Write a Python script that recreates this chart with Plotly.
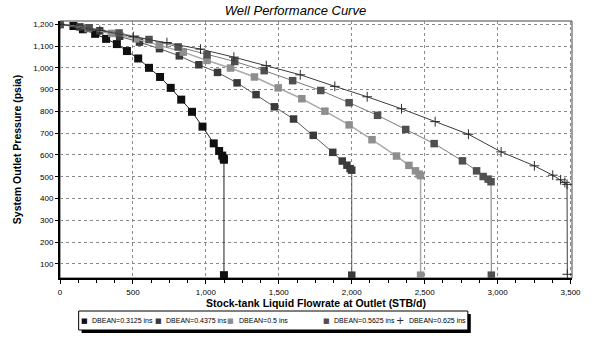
import plotly.graph_objects as go

# ---- data ----
names = ["DBEAN=0.3125 ins", "DBEAN=0.4375 ins", "DBEAN=0.5 ins", "DBEAN=0.5625 ins", "DBEAN=0.625 ins"]

s1_x = [0, 92, 157, 241, 316, 390, 459, 536, 610, 686, 759, 831, 905, 977, 1054, 1091, 1112, 1122, 1124, 1124]
s1_y = [1200, 1192, 1177, 1156, 1133, 1109, 1077, 1043, 1000, 958, 908, 854, 798, 730, 653, 618, 597, 585, 578, 48]

s2_x = [0, 136, 272, 409, 545, 682, 818, 952, 1080, 1214, 1344, 1470, 1601, 1736, 1870, 1935, 1967, 1989, 2000, 2000]
s2_y = [1200, 1188, 1170, 1145, 1118, 1088, 1055, 1014, 979, 931, 877, 821, 765, 690, 612, 572, 553, 537, 530, 48]

s3_x = [0, 193, 356, 519, 682, 845, 1008, 1169, 1333, 1496, 1658, 1816, 1982, 2139, 2307, 2392, 2437, 2462, 2472, 2472]
s3_y = [1200, 1180, 1158, 1133, 1104, 1072, 1034, 999, 958, 908, 858, 801, 738, 670, 595, 552, 527, 512, 505, 48]

s4_x = [0, 200, 405, 610, 810, 1008, 1198, 1400, 1595, 1788, 1982, 2177, 2370, 2565, 2759, 2856, 2901, 2935, 2955, 2957]
s4_y = [1200, 1184, 1160, 1130, 1096, 1060, 1029, 987, 941, 896, 840, 782, 717, 652, 573, 527, 501, 489, 477, 48]

s5_x = [0, 273, 503, 733, 963, 1192, 1414, 1647, 1884, 2106, 2341, 2572, 2800, 3024, 3252, 3378, 3432, 3461, 3476, 3478]
s5_y = [1200, 1172, 1143, 1116, 1086, 1049, 1010, 968, 915, 867, 812, 753, 695, 614, 550, 507, 486, 474, 465, 52]

xs = [s1_x, s2_x, s3_x, s4_x, s5_x]
ys = [s1_y, s2_y, s3_y, s4_y, s5_y]

x_ticks = [0, 500, 1000, 1500, 2000, 2500, 3000, 3500]
y_ticks = [100, 200, 300, 400, 500, 600, 700, 800, 900, 1000, 1100, 1200]

# ---- styles ----
marker_colors = ["#101010", "#3a3a3a", "#8e8e8e", "#505050", "#2a2a2a"]
line_colors = ["#202020", "#5a5a5a", "#ababab", "#7a7a7a", "#3c3c3c"]
symbols = ["square", "square", "square", "square", "cross-thin"]
sizes = [8, 7.5, 7.5, 7.5, 7]

fig = go.Figure()
for i in range(5):
    marker = dict(symbol=symbols[i], size=sizes[i], color=marker_colors[i])
    if symbols[i] == "cross-thin":
        marker["line"] = dict(color=marker_colors[i], width=1)
    fig.add_trace(go.Scatter(
        x=xs[i], y=ys[i], name=names[i], mode="lines+markers",
        line=dict(color=line_colors[i], width=1 if i != 2 else 1.5),
        marker=marker, showlegend=False,
    ))

W, H = 591, 338
ml, mr, mt, mb = 60, 10, 21, 60
pw, ph = W - ml - mr, H - mt - mb

def px_x(p):
    return (p - ml) / pw

def px_y(p):
    return (H - mb - p) / ph

font = "Arial, Liberation Sans, sans-serif"

fig.update_layout(
    width=W, height=H,
    margin=dict(l=ml, r=mr, t=mt, b=mb),
    paper_bgcolor="white", plot_bgcolor="white",
    font=dict(family=font, color="black"),
    title=dict(text="<i>Well Performance Curve</i>", x=0.5, xref="container",
               y=1 - 10 / H, yref="container", yanchor="middle", xanchor="center",
               font=dict(size=13, family=font, color="black")),
    showlegend=False,
    xaxis=dict(range=[0, 3510], tickvals=x_ticks, tickformat=",d",
               showgrid=True, gridcolor="#8a8a8a", griddash="dot", gridwidth=1,
               showline=True, linecolor="black", linewidth=2,
               ticks="outside", ticklen=4, tickcolor="black", ticklabelstandoff=1,
               minor=dict(dtick=125, ticks="outside", ticklen=3, tickcolor="black", showgrid=False),
               tickfont=dict(size=8, family=font), zeroline=False,
               title=dict(text="<b>Stock-tank Liquid Flowrate at Outlet (STB/d)</b>",
                          font=dict(size=10.5, family=font), standoff=2)),
    yaxis=dict(range=[35, 1215], tickvals=y_ticks, tickformat=",d",
               showgrid=True, gridcolor="#8a8a8a", griddash="dot", gridwidth=1,
               showline=True, linecolor="black", linewidth=2,
               ticks="outside", ticklen=3, tickcolor="black",
               tickfont=dict(size=8, family=font), zeroline=False,
               title=dict(text="<b>System Outlet Pressure (psia)</b>",
                          font=dict(size=10.5, family=font), standoff=10)),
)

# thin frame around the plot area
fig.add_shape(type="rect", xref="paper", yref="paper", x0=0, x1=1, y0=0, y1=1,
              line=dict(color="#444444", width=1), layer="below")

# ---- legend box (drawn by hand to match the reference layout) ----
lg_left, lg_right, lg_top, lg_bot = 79, 475, 311, 330
fig.add_shape(type="rect", xref="paper", yref="paper",
              x0=px_x(lg_left + 3), x1=px_x(lg_right + 3), y0=px_y(lg_bot + 3), y1=px_y(lg_top + 3),
              fillcolor="black", line=dict(width=0), layer="above")
fig.add_shape(type="rect", xref="paper", yref="paper",
              x0=px_x(lg_left), x1=px_x(lg_right), y0=px_y(lg_bot), y1=px_y(lg_top),
              fillcolor="white", line=dict(color="black", width=1), layer="above")

sym_px = [85, 160, 234, 331, 406]
txt_px = [91, 166, 240, 337, 413]
sym_txt = ["\u25a0", "\u25a0", "\u25a0", "\u25a0", "+"]
yc = px_y((lg_top + lg_bot) / 2)
for i in range(5):
    fig.add_annotation(x=px_x(sym_px[i]), y=yc, xref="paper", yref="paper",
                       text=sym_txt[i], showarrow=False, xanchor="center", yanchor="middle",
                       font=dict(size=7 if i < 4 else 10, color=marker_colors[i], family="DejaVu Sans"))
    fig.add_annotation(x=px_x(txt_px[i]), y=yc, xref="paper", yref="paper",
                       text=names[i], showarrow=False, xanchor="left", yanchor="middle",
                       font=dict(size=7, color="black", family=font))

fig.write_html("out.html")
